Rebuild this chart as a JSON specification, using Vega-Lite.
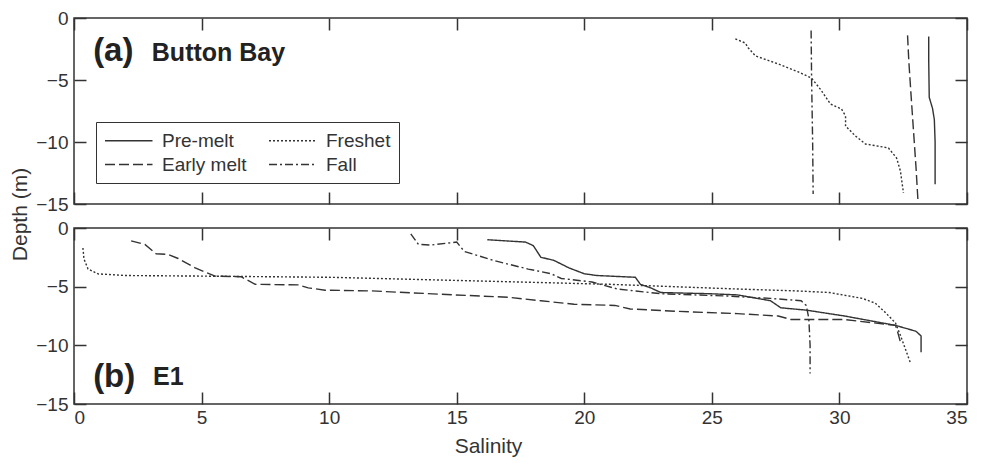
{
  "$schema": "https://vega.github.io/schema/vega-lite/v6.json",
  "background": "white",
  "padding": {"left": 8, "top": 8, "right": 10, "bottom": 5},
  "autosize": {"type": "pad"},
  "bounds": "flush",
  "spacing": 24,
  "config": {
    "font": "Liberation Sans",
    "view": {"stroke": "#333", "strokeWidth": 1.5},
    "axis": {
      "domain": false, "grid": false,
      "tickSize": -12, "tickWidth": 1.5, "tickColor": "#333",
      "labelPadding": 18, "labelFontSize": 19, "labelColor": "#333", "labelFont": "Liberation Sans",
      "titleFontSize": 21, "titleFontWeight": "normal", "titleColor": "#333", "titleFont": "Liberation Sans"
    }
  },
  "datasets": {
    "profiles": [
      {"panel": "a", "profile": "Pre-melt", "k": 1, "salinity": 33.5, "depth": -1.5},
      {"panel": "a", "profile": "Pre-melt", "k": 2, "salinity": 33.5, "depth": -3.5},
      {"panel": "a", "profile": "Pre-melt", "k": 3, "salinity": 33.52, "depth": -6.4},
      {"panel": "a", "profile": "Pre-melt", "k": 4, "salinity": 33.65, "depth": -7.3},
      {"panel": "a", "profile": "Pre-melt", "k": 5, "salinity": 33.72, "depth": -8.2},
      {"panel": "a", "profile": "Pre-melt", "k": 6, "salinity": 33.75, "depth": -10},
      {"panel": "a", "profile": "Pre-melt", "k": 7, "salinity": 33.75, "depth": -13.4},
      {"panel": "a", "profile": "Early melt", "k": 1, "salinity": 32.67, "depth": -1.4},
      {"panel": "a", "profile": "Early melt", "k": 2, "salinity": 32.72, "depth": -3.5},
      {"panel": "a", "profile": "Early melt", "k": 3, "salinity": 32.8, "depth": -6},
      {"panel": "a", "profile": "Early melt", "k": 4, "salinity": 32.9, "depth": -9},
      {"panel": "a", "profile": "Early melt", "k": 5, "salinity": 33.0, "depth": -12},
      {"panel": "a", "profile": "Early melt", "k": 6, "salinity": 33.08, "depth": -14.8},
      {"panel": "a", "profile": "Freshet", "k": 1, "salinity": 25.92, "depth": -1.69},
      {"panel": "a", "profile": "Freshet", "k": 2, "salinity": 26.31, "depth": -2.02},
      {"panel": "a", "profile": "Freshet", "k": 3, "salinity": 26.43, "depth": -2.42},
      {"panel": "a", "profile": "Freshet", "k": 4, "salinity": 26.71, "depth": -3.06},
      {"panel": "a", "profile": "Freshet", "k": 5, "salinity": 27.61, "depth": -3.71},
      {"panel": "a", "profile": "Freshet", "k": 6, "salinity": 28.39, "depth": -4.35},
      {"panel": "a", "profile": "Freshet", "k": 7, "salinity": 28.9, "depth": -4.84},
      {"panel": "a", "profile": "Freshet", "k": 8, "salinity": 29.25, "depth": -5.73},
      {"panel": "a", "profile": "Freshet", "k": 9, "salinity": 29.65, "depth": -6.94},
      {"panel": "a", "profile": "Freshet", "k": 10, "salinity": 30.08, "depth": -7.34},
      {"panel": "a", "profile": "Freshet", "k": 11, "salinity": 30.24, "depth": -7.9},
      {"panel": "a", "profile": "Freshet", "k": 12, "salinity": 30.24, "depth": -8.71},
      {"panel": "a", "profile": "Freshet", "k": 13, "salinity": 30.63, "depth": -9.52},
      {"panel": "a", "profile": "Freshet", "k": 14, "salinity": 31.02, "depth": -10.16},
      {"panel": "a", "profile": "Freshet", "k": 15, "salinity": 31.92, "depth": -10.48},
      {"panel": "a", "profile": "Freshet", "k": 16, "salinity": 32.24, "depth": -11.29},
      {"panel": "a", "profile": "Freshet", "k": 17, "salinity": 32.39, "depth": -12.34},
      {"panel": "a", "profile": "Freshet", "k": 18, "salinity": 32.51, "depth": -14.11},
      {"panel": "a", "profile": "Fall", "k": 1, "salinity": 28.89, "depth": -1.0},
      {"panel": "a", "profile": "Fall", "k": 2, "salinity": 28.91, "depth": -5},
      {"panel": "a", "profile": "Fall", "k": 3, "salinity": 28.95, "depth": -10},
      {"panel": "a", "profile": "Fall", "k": 4, "salinity": 28.97, "depth": -14.2},
      {"panel": "b", "profile": "Pre-melt", "k": 1, "salinity": 16.2, "depth": -1.0},
      {"panel": "b", "profile": "Pre-melt", "k": 2, "salinity": 17.7, "depth": -1.2},
      {"panel": "b", "profile": "Pre-melt", "k": 3, "salinity": 18.0, "depth": -1.5},
      {"panel": "b", "profile": "Pre-melt", "k": 4, "salinity": 18.3, "depth": -2.5},
      {"panel": "b", "profile": "Pre-melt", "k": 5, "salinity": 18.8, "depth": -2.75},
      {"panel": "b", "profile": "Pre-melt", "k": 6, "salinity": 19.4, "depth": -3.4},
      {"panel": "b", "profile": "Pre-melt", "k": 7, "salinity": 20.0, "depth": -3.9},
      {"panel": "b", "profile": "Pre-melt", "k": 8, "salinity": 20.5, "depth": -4.05},
      {"panel": "b", "profile": "Pre-melt", "k": 9, "salinity": 22.0, "depth": -4.2},
      {"panel": "b", "profile": "Pre-melt", "k": 10, "salinity": 22.2, "depth": -4.8},
      {"panel": "b", "profile": "Pre-melt", "k": 11, "salinity": 22.6, "depth": -5.1},
      {"panel": "b", "profile": "Pre-melt", "k": 12, "salinity": 23.0, "depth": -5.5},
      {"panel": "b", "profile": "Pre-melt", "k": 13, "salinity": 24.9, "depth": -5.6},
      {"panel": "b", "profile": "Pre-melt", "k": 14, "salinity": 26.0, "depth": -5.7},
      {"panel": "b", "profile": "Pre-melt", "k": 15, "salinity": 27.3, "depth": -6.2},
      {"panel": "b", "profile": "Pre-melt", "k": 16, "salinity": 27.7, "depth": -6.8},
      {"panel": "b", "profile": "Pre-melt", "k": 17, "salinity": 28.7, "depth": -7.0},
      {"panel": "b", "profile": "Pre-melt", "k": 18, "salinity": 30.2, "depth": -7.5},
      {"panel": "b", "profile": "Pre-melt", "k": 19, "salinity": 32.2, "depth": -8.3},
      {"panel": "b", "profile": "Pre-melt", "k": 20, "salinity": 33.0, "depth": -8.8},
      {"panel": "b", "profile": "Pre-melt", "k": 21, "salinity": 33.2, "depth": -9.2},
      {"panel": "b", "profile": "Pre-melt", "k": 22, "salinity": 33.2, "depth": -10.6},
      {"panel": "b", "profile": "Early melt", "k": 1, "salinity": 2.24, "depth": -1.1},
      {"panel": "b", "profile": "Early melt", "k": 2, "salinity": 2.78, "depth": -1.4},
      {"panel": "b", "profile": "Early melt", "k": 3, "salinity": 3.22, "depth": -2.2},
      {"panel": "b", "profile": "Early melt", "k": 4, "salinity": 3.69, "depth": -2.25},
      {"panel": "b", "profile": "Early melt", "k": 5, "salinity": 4.08, "depth": -2.6},
      {"panel": "b", "profile": "Early melt", "k": 6, "salinity": 4.75, "depth": -3.4},
      {"panel": "b", "profile": "Early melt", "k": 7, "salinity": 5.53, "depth": -4.1},
      {"panel": "b", "profile": "Early melt", "k": 8, "salinity": 6.55, "depth": -4.15},
      {"panel": "b", "profile": "Early melt", "k": 9, "salinity": 7.1, "depth": -4.8},
      {"panel": "b", "profile": "Early melt", "k": 10, "salinity": 8.78, "depth": -4.85},
      {"panel": "b", "profile": "Early melt", "k": 11, "salinity": 9.18, "depth": -5.1},
      {"panel": "b", "profile": "Early melt", "k": 12, "salinity": 9.84, "depth": -5.3},
      {"panel": "b", "profile": "Early melt", "k": 13, "salinity": 11.65, "depth": -5.36},
      {"panel": "b", "profile": "Early melt", "k": 14, "salinity": 14.9, "depth": -5.7},
      {"panel": "b", "profile": "Early melt", "k": 15, "salinity": 17.0, "depth": -5.9},
      {"panel": "b", "profile": "Early melt", "k": 16, "salinity": 18.3, "depth": -6.2},
      {"panel": "b", "profile": "Early melt", "k": 17, "salinity": 19.6, "depth": -6.5},
      {"panel": "b", "profile": "Early melt", "k": 18, "salinity": 21.2, "depth": -6.6},
      {"panel": "b", "profile": "Early melt", "k": 19, "salinity": 21.8, "depth": -6.9},
      {"panel": "b", "profile": "Early melt", "k": 20, "salinity": 23.6, "depth": -7.1},
      {"panel": "b", "profile": "Early melt", "k": 21, "salinity": 26.0, "depth": -7.3},
      {"panel": "b", "profile": "Early melt", "k": 22, "salinity": 27.6, "depth": -7.5},
      {"panel": "b", "profile": "Early melt", "k": 23, "salinity": 28.1, "depth": -7.8},
      {"panel": "b", "profile": "Early melt", "k": 24, "salinity": 30.2, "depth": -7.8},
      {"panel": "b", "profile": "Early melt", "k": 25, "salinity": 32.2, "depth": -8.3},
      {"panel": "b", "profile": "Early melt", "k": 26, "salinity": 32.3, "depth": -9.0},
      {"panel": "b", "profile": "Early melt", "k": 27, "salinity": 32.4, "depth": -9.8},
      {"panel": "b", "profile": "Freshet", "k": 1, "salinity": 0.35, "depth": -1.7},
      {"panel": "b", "profile": "Freshet", "k": 2, "salinity": 0.39, "depth": -2.64},
      {"panel": "b", "profile": "Freshet", "k": 3, "salinity": 0.55, "depth": -3.49},
      {"panel": "b", "profile": "Freshet", "k": 4, "salinity": 0.94, "depth": -3.91},
      {"panel": "b", "profile": "Freshet", "k": 5, "salinity": 2.0, "depth": -4.05},
      {"panel": "b", "profile": "Freshet", "k": 6, "salinity": 5.0, "depth": -4.1},
      {"panel": "b", "profile": "Freshet", "k": 7, "salinity": 10.0, "depth": -4.2},
      {"panel": "b", "profile": "Freshet", "k": 8, "salinity": 17.4, "depth": -4.6},
      {"panel": "b", "profile": "Freshet", "k": 9, "salinity": 21.0, "depth": -4.8},
      {"panel": "b", "profile": "Freshet", "k": 10, "salinity": 26.0, "depth": -5.2},
      {"panel": "b", "profile": "Freshet", "k": 11, "salinity": 28.3, "depth": -5.36},
      {"panel": "b", "profile": "Freshet", "k": 12, "salinity": 29.6, "depth": -5.5},
      {"panel": "b", "profile": "Freshet", "k": 13, "salinity": 30.9, "depth": -6.0},
      {"panel": "b", "profile": "Freshet", "k": 14, "salinity": 31.4, "depth": -6.4},
      {"panel": "b", "profile": "Freshet", "k": 15, "salinity": 31.8, "depth": -7.2},
      {"panel": "b", "profile": "Freshet", "k": 16, "salinity": 32.2, "depth": -8.1},
      {"panel": "b", "profile": "Freshet", "k": 17, "salinity": 32.4, "depth": -9.2},
      {"panel": "b", "profile": "Freshet", "k": 18, "salinity": 32.8, "depth": -11.6},
      {"panel": "b", "profile": "Fall", "k": 1, "salinity": 13.2, "depth": -0.5},
      {"panel": "b", "profile": "Fall", "k": 2, "salinity": 13.5, "depth": -1.4},
      {"panel": "b", "profile": "Fall", "k": 3, "salinity": 14.0, "depth": -1.45},
      {"panel": "b", "profile": "Fall", "k": 4, "salinity": 15.0, "depth": -1.2},
      {"panel": "b", "profile": "Fall", "k": 5, "salinity": 15.3, "depth": -2.0},
      {"panel": "b", "profile": "Fall", "k": 6, "salinity": 16.5, "depth": -2.8},
      {"panel": "b", "profile": "Fall", "k": 7, "salinity": 17.8, "depth": -3.5},
      {"panel": "b", "profile": "Fall", "k": 8, "salinity": 18.7, "depth": -3.9},
      {"panel": "b", "profile": "Fall", "k": 9, "salinity": 19.1, "depth": -4.3},
      {"panel": "b", "profile": "Fall", "k": 10, "salinity": 20.3, "depth": -4.6},
      {"panel": "b", "profile": "Fall", "k": 11, "salinity": 21.3, "depth": -5.2},
      {"panel": "b", "profile": "Fall", "k": 12, "salinity": 23.0, "depth": -5.6},
      {"panel": "b", "profile": "Fall", "k": 13, "salinity": 25.6, "depth": -5.8},
      {"panel": "b", "profile": "Fall", "k": 14, "salinity": 27.3, "depth": -6.0},
      {"panel": "b", "profile": "Fall", "k": 15, "salinity": 28.5, "depth": -6.2},
      {"panel": "b", "profile": "Fall", "k": 16, "salinity": 28.7, "depth": -6.6},
      {"panel": "b", "profile": "Fall", "k": 17, "salinity": 28.8, "depth": -7.7},
      {"panel": "b", "profile": "Fall", "k": 18, "salinity": 28.85, "depth": -10},
      {"panel": "b", "profile": "Fall", "k": 19, "salinity": 28.85, "depth": -12.4}
    ]
  },
  "resolve": {"legend": {"strokeDash": "independent"}},
  "vconcat": [
    {
      "width": 893,
      "height": 186,
      "layer": [
        {
          "data": {"name": "profiles"},
          "transform": [{"filter": "datum.panel === 'a'"}],
          "mark": {"type": "line", "color": "#333", "strokeWidth": 1.4},
          "encoding": {
            "x": {"field": "salinity", "type": "quantitative",
                  "scale": {"domain": [0, 35], "nice": false, "zero": false},
                  "axis": {"orient": "bottom", "labels": false, "title": null, "values": [0, 5, 10, 15, 20, 25, 30, 35]}},
            "y": {"field": "depth", "type": "quantitative",
                  "scale": {"domain": [-15, 0], "nice": false, "zero": false},
                  "axis": {"orient": "left", "values": [0, -5, -10, -15], "title": "Depth (m)",
                           "titleX": -54, "titleY": 196, "titleAngle": 270, "titleAlign": "center", "titleBaseline": "middle"}},
            "strokeDash": {"field": "profile", "type": "nominal",
                           "scale": {"domain": ["Pre-melt", "Early melt", "Freshet", "Fall"],
                                     "range": [[1, 0], [10, 4], [2, 2], [8, 3, 2, 3]]},
                           "legend": {"orient": "none", "legendX": 22, "legendY": 104, "columns": 2, "title": null,
                                      "strokeColor": "#333", "padding": 8, "symbolType": "M-1,0H4", "symbolSize": 361,
                                      "symbolStrokeWidth": 1.5, "symbolStrokeColor": "#333", "labelFontSize": 19,
                                      "labelColor": "#333", "labelFont": "Liberation Sans", "columnPadding": 19, "rowPadding": 3, "labelOffset": 37}},
            "order": {"field": "k", "type": "quantitative"}
          }
        },
        {
          "data": {"name": "profiles"},
          "mark": {"type": "point", "opacity": 0},
          "encoding": {
            "x": {"field": "salinity", "type": "quantitative", "axis": {"orient": "top", "labels": false, "title": null, "values": [0, 5, 10, 15, 20, 25, 30, 35]}},
            "y": {"field": "depth", "type": "quantitative", "axis": {"orient": "right", "labels": false, "title": null, "values": [0, -5, -10, -15]}}
          }
        },
        {
          "data": {"values": [{"label": "(a)", "s": 0.75, "d": -2.66}]},
          "mark": {"type": "text", "fontSize": 33, "fontWeight": "bold", "align": "left", "baseline": "middle", "color": "#222", "font": "Liberation Sans"},
          "encoding": {
            "x": {"field": "s", "type": "quantitative", "axis": null},
            "y": {"field": "d", "type": "quantitative", "axis": null},
            "text": {"field": "label"}
          }
        },
        {
          "data": {"values": [{"label": "Button Bay", "s": 3.05, "d": -2.85}]},
          "mark": {"type": "text", "fontSize": 25, "fontWeight": "bold", "align": "left", "baseline": "middle", "color": "#222", "font": "Liberation Sans"},
          "encoding": {
            "x": {"field": "s", "type": "quantitative", "axis": null},
            "y": {"field": "d", "type": "quantitative", "axis": null},
            "text": {"field": "label"}
          }
        }
      ],
      "resolve": {"axis": {"x": "independent", "y": "independent"}}
    },
    {
      "width": 893,
      "height": 176,
      "layer": [
        {
          "data": {"name": "profiles"},
          "transform": [{"filter": "datum.panel === 'b'"}],
          "mark": {"type": "line", "color": "#333", "strokeWidth": 1.4},
          "encoding": {
            "x": {"field": "salinity", "type": "quantitative",
                  "scale": {"domain": [0, 35], "nice": false, "zero": false},
                  "axis": {"orient": "bottom", "title": "Salinity", "values": [0, 5, 10, 15, 20, 25, 30, 35], "labelPadding": 16,
                           "titleX": 414, "titleY": 42, "titleAlign": "center", "titleBaseline": "middle"}},
            "y": {"field": "depth", "type": "quantitative",
                  "scale": {"domain": [-15, 0], "nice": false, "zero": false},
                  "axis": {"orient": "left", "values": [0, -5, -10, -15], "title": null}},
            "strokeDash": {"field": "profile", "type": "nominal",
                           "scale": {"domain": ["Pre-melt", "Early melt", "Freshet", "Fall"],
                                     "range": [[1, 0], [10, 4], [2, 2], [8, 3, 2, 3]]},
                           "legend": null},
            "order": {"field": "k", "type": "quantitative"}
          }
        },
        {
          "data": {"name": "profiles"},
          "mark": {"type": "point", "opacity": 0},
          "encoding": {
            "x": {"field": "salinity", "type": "quantitative", "axis": {"orient": "top", "labels": false, "title": null, "values": [0, 5, 10, 15, 20, 25, 30, 35]}},
            "y": {"field": "depth", "type": "quantitative", "axis": {"orient": "right", "labels": false, "title": null, "values": [0, -5, -10, -15]}}
          }
        },
        {
          "data": {"values": [{"label": "(b)", "s": 0.75, "d": -12.68}]},
          "mark": {"type": "text", "fontSize": 33, "fontWeight": "bold", "align": "left", "baseline": "middle", "color": "#222", "font": "Liberation Sans"},
          "encoding": {
            "x": {"field": "s", "type": "quantitative", "axis": null},
            "y": {"field": "d", "type": "quantitative", "axis": null},
            "text": {"field": "label"}
          }
        },
        {
          "data": {"values": [{"label": "E1", "s": 3.1, "d": -12.68}]},
          "mark": {"type": "text", "fontSize": 25, "fontWeight": "bold", "align": "left", "baseline": "middle", "color": "#222", "font": "Liberation Sans"},
          "encoding": {
            "x": {"field": "s", "type": "quantitative", "axis": null},
            "y": {"field": "d", "type": "quantitative", "axis": null},
            "text": {"field": "label"}
          }
        }
      ],
      "resolve": {"axis": {"x": "independent", "y": "independent"}}
    }
  ]
}
